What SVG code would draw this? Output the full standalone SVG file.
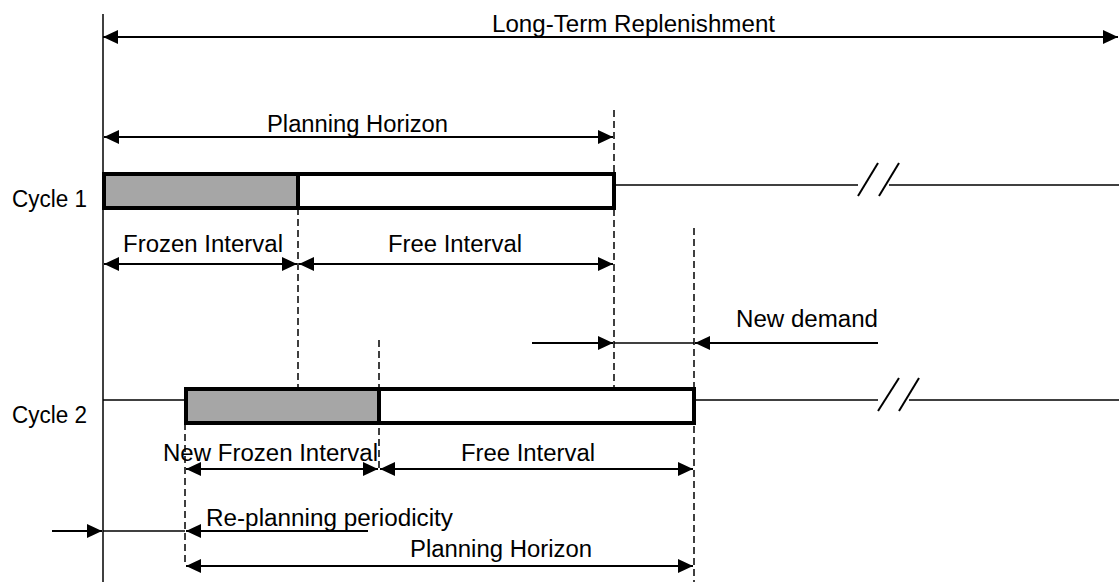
<svg xmlns="http://www.w3.org/2000/svg" width="1119" height="582" viewBox="0 0 1119 582">
<style>
text{font-family:"Liberation Sans",Arial,sans-serif;font-size:23.5px;fill:#000}
.a{stroke:#000;stroke-width:2;fill:none}
.t{stroke:#000;stroke-width:1.5;fill:none}
.d{stroke:#000;stroke-width:1.5;stroke-dasharray:7,4;fill:none}
.bar{stroke:#000;stroke-width:4;fill:#fff}
.frz{stroke:#000;stroke-width:4;fill:#a6a6a6}
</style>
<defs>
<marker id="ah" markerUnits="userSpaceOnUse" markerWidth="16" markerHeight="15" refX="15" refY="7" orient="auto-start-reverse" viewBox="0 0 16 14">
<path d="M0,0 L15,7 L0,14 z" fill="#000"/>
</marker>
</defs>
<rect width="1119" height="582" fill="#fff"/>
<g id="connectors">
<line class="t" x1="103" y1="14" x2="103" y2="582"/>
<line class="a" x1="103" y1="37" x2="1118" y2="37" marker-start="url(#ah)" marker-end="url(#ah)"/>
<line class="d" x1="614" y1="110" x2="614" y2="390"/>
<line class="d" x1="298" y1="208" x2="298" y2="388"/>
<line class="d" x1="694" y1="228" x2="694" y2="582"/>
<line class="d" x1="379" y1="340" x2="379" y2="470"/>
<line class="d" x1="185" y1="423" x2="185" y2="562"/>
<line class="a" x1="104" y1="137" x2="613" y2="137" marker-start="url(#ah)" marker-end="url(#ah)"/>
<line class="t" x1="614" y1="185" x2="858" y2="185"/>
<line class="t" x1="889" y1="185" x2="1119" y2="185"/>
<line class="a" x1="858" y1="196" x2="878" y2="163"/>
<line class="a" x1="879" y1="196" x2="899" y2="163"/>
<line class="a" x1="104" y1="264" x2="297" y2="264" marker-start="url(#ah)" marker-end="url(#ah)"/>
<line class="a" x1="299" y1="264" x2="613" y2="264" marker-start="url(#ah)" marker-end="url(#ah)"/>
<line class="a" x1="532" y1="343" x2="613" y2="343" marker-end="url(#ah)"/>
<line class="t" x1="614" y1="343" x2="694" y2="343"/>
<line class="a" x1="878" y1="343" x2="695" y2="343" marker-end="url(#ah)"/>
<line class="t" x1="103" y1="400" x2="185" y2="400"/>
<line class="t" x1="694" y1="400" x2="878" y2="400"/>
<line class="t" x1="909" y1="400" x2="1119" y2="400"/>
<line class="a" x1="878" y1="411" x2="899" y2="378"/>
<line class="a" x1="899" y1="411" x2="919" y2="378"/>
<line class="a" x1="186" y1="469" x2="378" y2="469" marker-start="url(#ah)" marker-end="url(#ah)"/>
<line class="a" x1="380" y1="469" x2="693" y2="469" marker-start="url(#ah)" marker-end="url(#ah)"/>
<line class="a" x1="52" y1="531" x2="102" y2="531" marker-end="url(#ah)"/>
<line class="t" x1="103" y1="531" x2="185" y2="531"/>
<line class="a" x1="368" y1="531" x2="186" y2="531" marker-end="url(#ah)"/>
<line class="a" x1="186" y1="566" x2="693" y2="566" marker-start="url(#ah)" marker-end="url(#ah)"/>
</g>
<g id="cycle1">
<rect class="frz" x="104" y="174" width="194" height="34"/>
<rect class="bar" x="298" y="174" width="316" height="34"/>
<text x="12" y="207" textLength="75" lengthAdjust="spacingAndGlyphs">Cycle 1</text>
</g>
<g id="cycle2">
<rect class="frz" x="186" y="389" width="193" height="34"/>
<rect class="bar" x="379" y="389" width="315" height="34"/>
<text x="12" y="423" textLength="75" lengthAdjust="spacingAndGlyphs">Cycle 2</text>
</g>
<g id="labels">
<text x="492" y="32" textLength="283" lengthAdjust="spacingAndGlyphs">Long-Term Replenishment</text>
<text x="267" y="132" textLength="181" lengthAdjust="spacingAndGlyphs">Planning Horizon</text>
<text x="123" y="252" textLength="160" lengthAdjust="spacingAndGlyphs">Frozen Interval</text>
<text x="388" y="252" textLength="134" lengthAdjust="spacingAndGlyphs">Free Interval</text>
<text x="736" y="327" textLength="142" lengthAdjust="spacingAndGlyphs">New demand</text>
<text x="163" y="461" textLength="215" lengthAdjust="spacingAndGlyphs">New Frozen Interval</text>
<text x="461" y="461" textLength="134" lengthAdjust="spacingAndGlyphs">Free Interval</text>
<text x="206" y="526" textLength="247" lengthAdjust="spacingAndGlyphs">Re-planning periodicity</text>
<text x="410" y="557" textLength="182" lengthAdjust="spacingAndGlyphs">Planning Horizon</text>
</g>
</svg>
